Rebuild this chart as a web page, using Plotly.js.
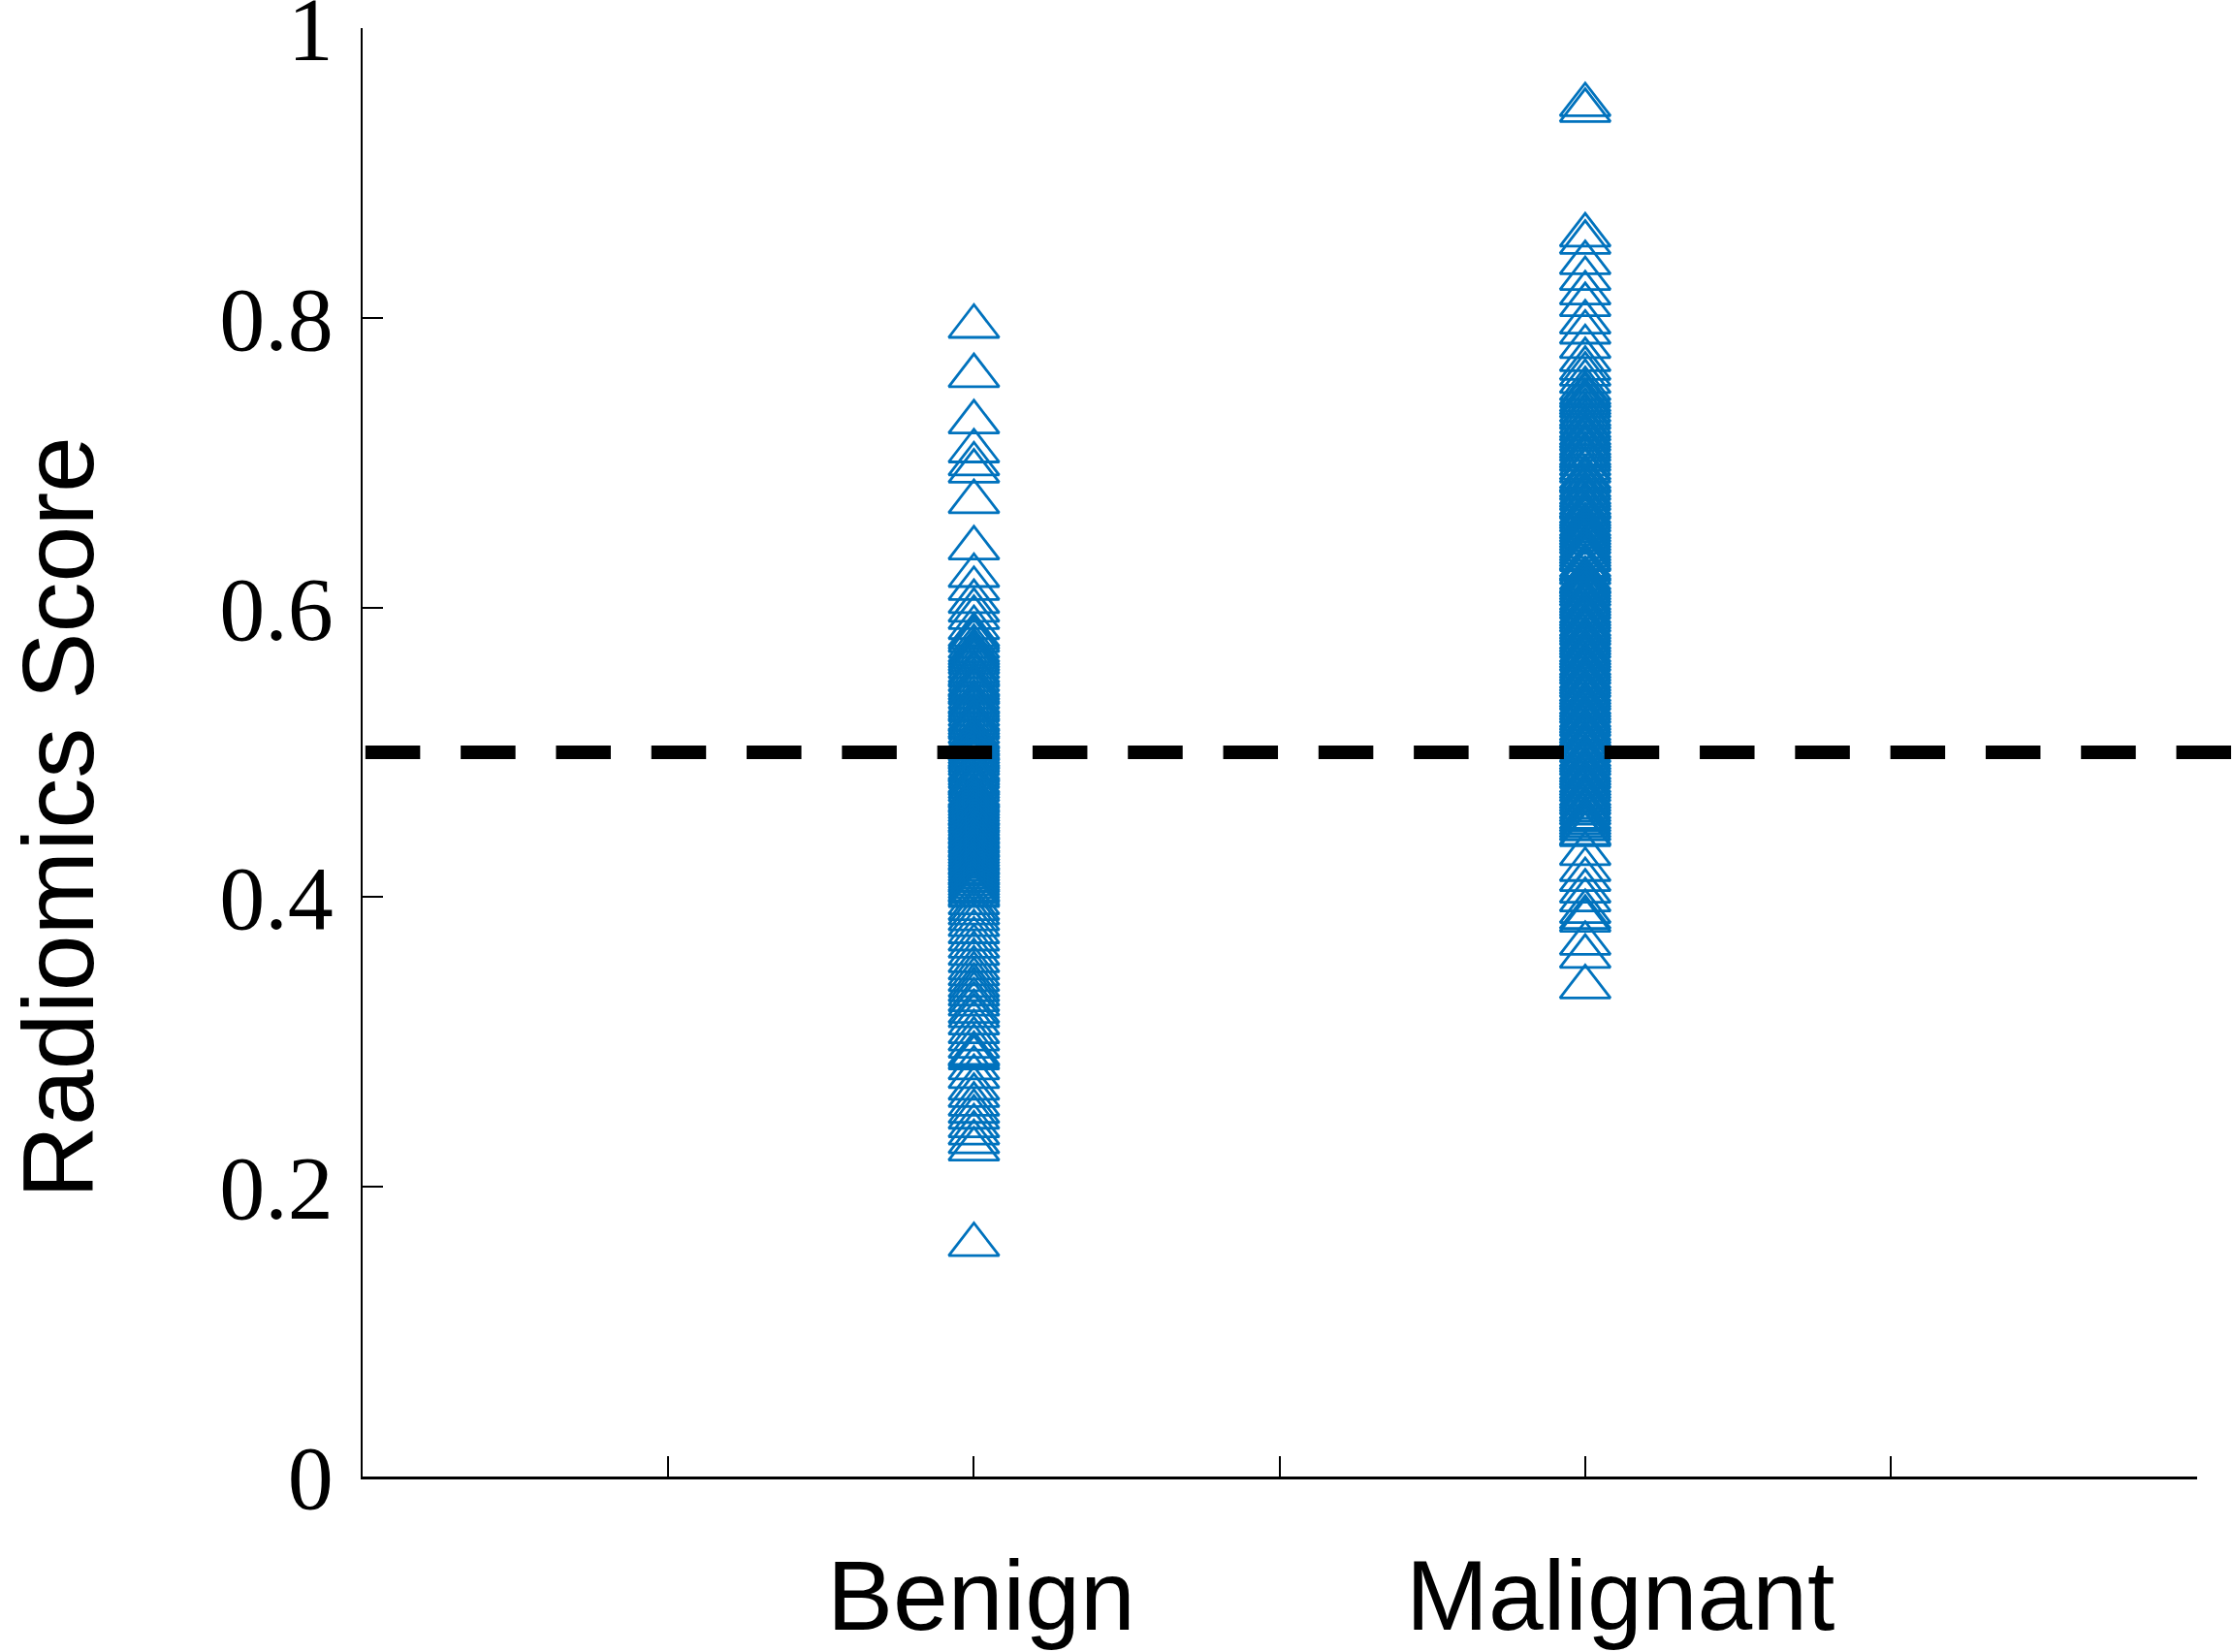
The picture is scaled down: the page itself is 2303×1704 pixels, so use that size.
<!DOCTYPE html>
<html>
<head>
<meta charset="utf-8">
<script src="https://cdn.plot.ly/plotly-3.0.1.min.js"></script>
<style>html,body{margin:0;padding:0;background:#fff;}#chart{width:2303px;height:1704px;}</style>
</head>
<body>
<div id="chart"></div>
<script>
// ---- data ----
const groupNames = ["Benign", "Malignant"];
const groupX = [1, 2];
const benignScores = [
  0.794, 0.760, 0.728, 0.708, 0.699, 0.694, 0.673, 0.641,
  0.622, 0.613, 0.604, 0.598, 0.593, 0.586, 0.581, 0.579, 0.577, 0.573, 0.570, 0.568,
  0.566, 0.564, 0.562, 0.559, 0.556, 0.554, 0.553, 0.550, 0.547, 0.546, 0.544, 0.542,
  0.541, 0.538, 0.535, 0.534, 0.532, 0.530, 0.529, 0.526, 0.523, 0.522, 0.520, 0.518,
  0.517, 0.514, 0.511, 0.510, 0.508, 0.506, 0.505, 0.503, 0.502, 0.500, 0.498, 0.497,
  0.496, 0.494, 0.492, 0.489, 0.488, 0.487, 0.485, 0.483, 0.480, 0.479, 0.478, 0.476,
  0.474, 0.471, 0.470, 0.469, 0.467, 0.466, 0.464, 0.462, 0.460, 0.458, 0.457, 0.455,
  0.453, 0.452, 0.450, 0.448, 0.447, 0.445, 0.444, 0.442, 0.441, 0.439, 0.438, 0.436,
  0.435, 0.433, 0.431, 0.429, 0.427, 0.426, 0.424, 0.423, 0.421, 0.419, 0.417, 0.416,
  0.414, 0.412, 0.411, 0.409, 0.407, 0.405, 0.404, 0.402, 0.401, 0.396,
  0.392, 0.389, 0.385, 0.381, 0.376, 0.371, 0.366, 0.361, 0.356, 0.351, 0.347, 0.343,
  0.339, 0.336, 0.333, 0.329, 0.326, 0.321, 0.318, 0.313, 0.307, 0.302, 0.297, 0.292,
  0.291, 0.289, 0.282, 0.276, 0.268, 0.263, 0.257, 0.252, 0.248, 0.242, 0.237, 0.231,
  0.226, 0.160
];
const malignantScores = [
  0.947, 0.943, 0.857, 0.852, 0.838, 0.827, 0.817, 0.809, 0.797, 0.790, 0.780, 0.771,
  0.765, 0.761, 0.756, 0.751, 0.748, 0.746, 0.743, 0.741, 0.739, 0.736, 0.733, 0.731,
  0.728, 0.725, 0.723, 0.720, 0.718, 0.716, 0.713, 0.711, 0.709, 0.706, 0.704, 0.702,
  0.699, 0.696, 0.694, 0.690, 0.688, 0.687, 0.684, 0.682, 0.679, 0.677, 0.675, 0.672,
  0.670, 0.669, 0.666, 0.664, 0.662, 0.660, 0.657, 0.655, 0.653, 0.651, 0.649, 0.647,
  0.645, 0.642, 0.640, 0.638, 0.636, 0.634, 0.633, 0.629, 0.627, 0.626, 0.624, 0.620,
  0.618, 0.617, 0.615, 0.613, 0.611, 0.609, 0.606, 0.604, 0.602, 0.600, 0.597, 0.595,
  0.593, 0.591, 0.588, 0.586, 0.584, 0.582, 0.579, 0.577, 0.575, 0.573, 0.570, 0.568,
  0.566, 0.564, 0.561, 0.559, 0.557, 0.555, 0.552, 0.550, 0.548, 0.546, 0.543, 0.541,
  0.539, 0.537, 0.534, 0.532, 0.530, 0.528, 0.525, 0.523, 0.521, 0.519, 0.516, 0.514,
  0.512, 0.510, 0.507, 0.505, 0.503, 0.501, 0.498, 0.496, 0.494, 0.492, 0.489, 0.487,
  0.485, 0.483, 0.480, 0.478, 0.476, 0.474, 0.471, 0.469, 0.467, 0.465, 0.462, 0.460,
  0.458, 0.455, 0.453, 0.451, 0.449, 0.447, 0.444, 0.443, 0.430, 0.419, 0.412, 0.404,
  0.398, 0.390, 0.386, 0.384, 0.368, 0.359, 0.338
];
const thresholdValue = 0.5;
const yTickVals = [0, 0.2, 0.4, 0.6, 0.8, 1];
const yTickText = ["0", "0.2", "0.4", "0.6", "0.8", "1"];
const xTickVals = [0, 0.5, 1, 1.5, 2, 2.5, 3];
const yAxisTitle = "Radiomics Score";

// ---- chart ----
const blue = "#0072BD";
function groupTrace(xv, scores) {
  return {
    type: "scatter", mode: "markers",
    x: scores.map(() => xv), y: scores,
    marker: { symbol: "triangle-up-open", size: 45, color: blue, line: { color: blue, width: 2.8 } },
    hoverinfo: "y", showlegend: false, cliponaxis: false
  };
}
const data = [
  groupTrace(groupX[0], benignScores),
  groupTrace(groupX[1], malignantScores)
];

const layout = {
  width: 2303, height: 1704,
  margin: { l: 374, r: 37, t: 29, b: 181, pad: 0 },
  paper_bgcolor: "#fff", plot_bgcolor: "#fff",
  showlegend: false,
  xaxis: {
    range: [0, 3.001], tickvals: xTickVals, showticklabels: false,
    ticks: "inside", ticklen: 21, tickwidth: 2, tickcolor: "#000",
    showline: true, linecolor: "#000", linewidth: 2.5,
    showgrid: false, zeroline: false, mirror: false
  },
  yaxis: {
    range: [0, 1], tickvals: yTickVals, ticktext: yTickText,
    ticks: "inside", ticklen: 21, tickwidth: 2, tickcolor: "#000",
    showline: true, linecolor: "#000", linewidth: 2.5,
    showgrid: false, zeroline: false, mirror: false,
    tickfont: { family: "Liberation Serif, Times New Roman, serif", size: 94, color: "#000" },
    ticklabelstandoff: 9, ticklabeloverflow: "allow"
  },
  shapes: [{
    type: "line", xref: "paper", yref: "y",
    x0: 0.0015, x1: 1.0196, y0: thresholdValue, y1: thresholdValue,
    line: { color: "#000", width: 14, dash: "56.5px,41.8px" }, layer: "above"
  }],
  annotations: [
    { xref: "x", yref: "paper", x: groupX[0] + 0.012, y: -0.082, yanchor: "middle", xanchor: "center",
      text: groupNames[0], showarrow: false,
      font: { family: "Liberation Sans, Arial, sans-serif", size: 102, color: "#000" } },
    { xref: "x", yref: "paper", x: groupX[1] + 0.057, y: -0.082, yanchor: "middle", xanchor: "center",
      text: groupNames[1], showarrow: false,
      font: { family: "Liberation Sans, Arial, sans-serif", size: 102, color: "#000" } },
    { xref: "paper", yref: "paper", x: -0.166, y: 0.455, xanchor: "center", yanchor: "middle",
      text: yAxisTitle, textangle: -90, showarrow: false,
      font: { family: "Liberation Sans, Arial, sans-serif", size: 104, color: "#000" } }
  ]
};

Plotly.newPlot("chart", data, layout, { displayModeBar: false, staticPlot: true });
</script>
</body>
</html>
